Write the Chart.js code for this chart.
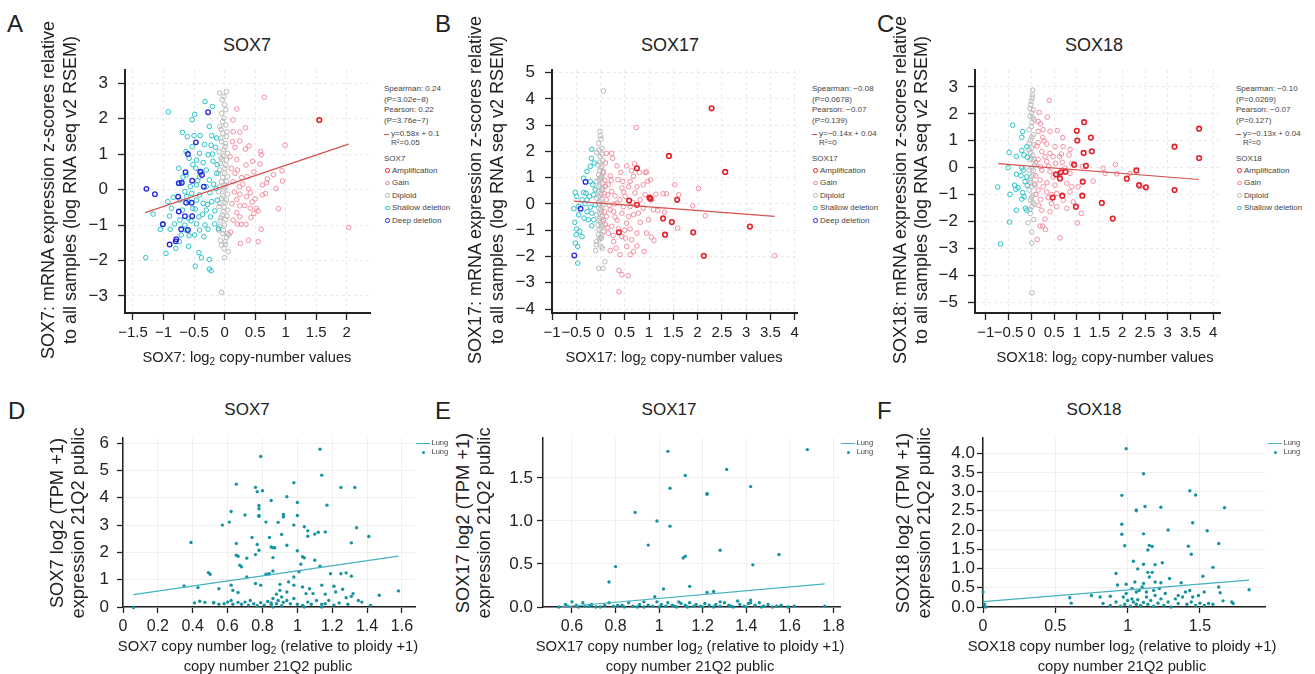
<!DOCTYPE html>
<html lang="en">
<head>
<meta charset="UTF-8">
<title>SOX7 / SOX17 / SOX18 copy number vs mRNA expression</title>
<script src="https://cdn.jsdelivr.net/npm/chart.js"></script>
<style>
    body {
        margin: 0;
        background: #fff;
        font-family: "Liberation Sans", Arial, sans-serif;
        color: #222;
    }
    #fig {
        position: relative;
        width: 1315px;
        height: 674px;
        overflow: hidden;
        background: #fff;
    }
    #fig canvas { position: absolute; }
    .t { position: absolute; white-space: nowrap; }
    .rot { position: absolute; white-space: nowrap; transform: translate(-50%, -50%) rotate(-90deg); }
    .leg { position: absolute; white-space: nowrap; font-size: 8px; line-height: 10px; color: #444; }
    .mk { position: absolute; width: 2.6px; height: 2.6px; border: 1.2px solid; border-radius: 50%; }
    .dash { position: absolute; height: 1.3px; }
    .dot { position: absolute; width: 3px; height: 3px; border-radius: 50%; background: #1b95a3; }
    sub { font-size: 0.68em; vertical-align: baseline; position: relative; top: 0.3em; line-height: 0; }
    sup { font-size: 0.6em; vertical-align: baseline; position: relative; top: -0.5em; line-height: 0; }
</style>
</head>
<body>
<div id="fig"></div>

<script>
// ---------- tick values ----------
const aXTicks = [-1.5, -1, -0.5, 0, 0.5, 1, 1.5, 2];
const aYTicks = [-3, -2, -1, 0, 1, 2, 3];
const bXTicks = [-1, -0.5, 0, 0.5, 1, 1.5, 2, 2.5, 3, 3.5, 4];
const bYTicks = [-4, -3, -2, -1, 0, 1, 2, 3, 4, 5];
const cXTicks = [-1, -0.5, 0, 0.5, 1, 1.5, 2, 2.5, 3, 3.5, 4];
const cYTicks = [-5, -4, -3, -2, -1, 0, 1, 2, 3];
const dXTicks = [0, 0.2, 0.4, 0.6, 0.8, 1, 1.2, 1.4, 1.6];
const dYTicks = [0, 1, 2, 3, 4, 5, 6];
const eXTicks = [0.6, 0.8, 1, 1.2, 1.4, 1.6, 1.8];
const eYTicks = [0, 0.5, 1, 1.5];
const fXTicks = [0, 0.5, 1, 1.5];
const fYTicks = [0, 0.5, 1, 1.5, 2, 2.5, 3, 3.5, 4];

// ---------- A: SOX7 (log2 CN, z-score) ----------
const sox7Amp = [[1.55,1.96]];
const sox7Gain = [[0.65,2.6],[0.2,2.27],[0.14,1.96],[0.34,1.74],[0.25,1.62],[0.14,1.63],[0.13,1.35],[0.25,1.37],[0.4,1.23],[0.34,1.14],[0.17,1.19],[0.59,1.07],[0.6,0.98],[0.99,1.25],[0.46,0.8],[0.35,0.69],[0.58,0.72],[0.21,0.55],[0.17,0.46],[0.28,0.34],[0.37,0.36],[0.48,0.5],[0.8,0.42],[0.94,0.53],[0.95,0.24],[0.69,0.19],[0.62,0.13],[0.14,0.22],[0.24,0.08],[0.39,0.02],[0.42,-0.09],[0.16,-0.07],[0.25,-0.13],[0.2,-0.28],[0.5,-0.26],[0.62,-0.15],[0.67,-0.11],[0.84,0.03],[0.88,-0.54],[0.25,-0.46],[0.33,-0.45],[0.42,-0.53],[0.52,-0.53],[0.48,-0.67],[0.2,-0.65],[0.25,-0.77],[0.14,-0.86],[0.21,-0.97],[0.27,-0.98],[0.35,-0.98],[0.43,-0.79],[0.6,-1.12],[0.39,-1.43],[0.55,-1.47],[0.26,-1.52],[2.03,-1.07],[0.2,0.85],[0.09,0.93],[0.11,0.6],[0.3,0.15],[0.45,-0.35],[0.55,-0.6],[0.12,-0.4],[0.7,0.3],[0.36,-0.2],[0.1,-1.2]];
const sox7Dip = [[-0.08,2.72],[0.03,2.76],[-0.01,2.62],[0,2.39],[-0.05,2.15],[-0.01,2.01],[-0.08,1.78],[0.02,1.82],[-0.03,1.59],[0.03,1.49],[-0.05,1.35],[0.01,1.21],[-0.09,1.07],[-0.02,0.95],[0.03,0.83],[-0.07,0.74],[0,0.6],[-0.1,0.46],[-0.03,0.34],[0.03,0.22],[-0.08,0.08],[-0.01,-0.01],[0.05,-0.13],[-0.05,-0.25],[0.01,-0.37],[-0.09,-0.48],[-0.02,-0.62],[0.04,-0.75],[-0.07,-0.88],[0,-1],[-0.1,-1.14],[-0.03,-1.24],[0.03,-1.35],[-0.05,-1.57],[-0.01,-1.66],[0.06,-1.75],[0,-1.92],[-0.05,-2.9],[-0.04,2.53],[0.02,2.25],[-0.03,1.92],[0.04,1.63],[-0.06,1.45],[-0.01,1.12],[0.05,1.02],[-0.04,0.85],[0.02,0.69],[-0.08,0.55],[0,0.46],[0.05,0.36],[-0.05,0.22],[0.01,0.13],[-0.1,-0.06],[-0.03,-0.18],[0.03,-0.3],[-0.08,-0.39],[-0.01,-0.5],[0.05,-0.58],[-0.04,-0.72],[0.02,-0.84],[-0.08,-1.05],[-0.02,-1.14],[0.05,-1.24],[0.01,-1.47],[-0.07,-1.43],[0.07,-1.28],[-0.06,1.7],[0.01,1.3],[-0.06,0.9],[0.01,0.05],[-0.06,-0.8],[0.01,-1.55]];
const sox7Shallow = [[-0.92,2.19],[-0.32,2.48],[-0.49,2.12],[-0.2,2.34],[-0.53,1.97],[-0.25,1.78],[-0.69,1.61],[-0.61,1.49],[-0.5,1.52],[-0.4,1.52],[-0.21,1.52],[-0.13,1.45],[-0.53,1.21],[-0.33,1.27],[-0.22,1.25],[-0.15,1.19],[-0.63,1.07],[-0.41,1.02],[-0.27,0.98],[-0.58,0.88],[-0.46,0.83],[-0.35,0.76],[-0.19,0.8],[-0.75,0.6],[-0.47,0.6],[-0.3,0.55],[-0.13,0.46],[-0.63,0.41],[-0.41,0.36],[-0.25,0.27],[-0.73,0.18],[-0.56,0.08],[-0.46,0.13],[-0.3,0.08],[-0.14,0.03],[-0.65,-0.06],[-0.54,-0.11],[-0.41,-0.15],[-0.24,-0.09],[-0.84,-0.22],[-0.93,-0.34],[-0.73,-0.3],[-0.59,-0.34],[-0.46,-0.3],[-0.35,-0.39],[-0.21,-0.34],[-0.12,-0.3],[-1.17,-0.69],[-0.87,-0.53],[-0.69,-0.58],[-0.52,-0.53],[-0.3,-0.58],[-0.9,-0.75],[-0.73,-0.86],[-0.59,-0.81],[-0.42,-0.77],[-0.23,-0.77],[-1.01,-0.97],[-0.82,-0.97],[-0.65,-1],[-0.46,-0.97],[-0.32,-1],[-0.16,-0.97],[-1.05,-1.12],[-0.89,-1.12],[-0.63,-1.14],[-0.41,-1.14],[-0.27,-1.12],[-0.1,-1.1],[-0.71,-1.28],[-0.49,-1.28],[-0.34,-1.33],[-0.74,-1.47],[-0.8,-1.66],[-0.59,-1.6],[-0.96,-1.8],[-0.42,-1.78],[-0.38,-1.92],[-0.25,-1.97],[-1.29,-1.92],[-0.48,-2.16],[-0.25,-2.24],[-0.22,-2.29],[-0.52,0.7],[-0.38,0.5],[-0.18,0.15],[-0.62,-0.2],[-0.48,-0.55],[-0.36,-0.7],[-0.55,-0.88],[-0.28,-0.42],[-0.16,-0.6],[-0.44,0.25],[-0.68,0.35],[-0.58,-1.3],[-0.2,1.0],[-0.12,0.7]];
const sox7Deep = [[-1.28,0.02],[-1.14,-0.13],[-0.27,2.18],[-0.47,1.33],[-0.6,1.0],[-0.64,0.49],[-0.4,0.5],[-0.37,0.41],[-0.53,0.25],[-0.75,0.18],[-0.7,0.19],[-0.34,0.08],[-0.76,-0.2],[-0.63,-0.37],[-0.54,-0.37],[-0.75,-0.62],[-0.65,-0.75],[-0.53,-0.75],[-1.01,-0.98],[-0.71,-1.12],[-0.6,-1.14],[-0.79,-1.4],[-0.8,-1.46],[-0.9,-1.55]];
const sox7Fit = [[-1.3,-0.65],[2.03,1.28]];

// ---------- B: SOX17 ----------
const sox17Amp = [[2.29,3.64],[1.41,1.83],[2.57,1.22],[0.75,1.36],[1.03,0.2],[1.01,0.24],[1.58,0.16],[0.59,0.13],[0.75,-0.03],[1.29,-0.55],[1.47,-0.69],[0.38,-1.08],[1.33,-1.17],[1.91,-1.08],[2.13,-1.97],[3.08,-0.86]];
const sox17Gain = [[0.74,2.91],[3.59,-1.97],[2.02,0.59],[2.16,-0.45],[1.9,-0.07],[1.53,0.73],[1.61,0.35],[1.29,0.39],[1.36,0.39],[1.59,-0.92],[1.18,-0.25],[1.32,-0.31],[0.95,-1.11],[1.05,-1.26],[1.1,-1.39],[0.9,-1.81],[0.38,-3.34],[0.38,-2.53],[0.44,-2.69],[0.57,-2.73],[0.25,1.74],[0.12,1.93],[0.34,1.45],[0.54,1.45],[0.64,1.27],[0.92,1.2],[0.95,1.22],[0.97,0.86],[0.7,1.53],[0.8,1.2],[0.2,1.07],[0.36,0.92],[0.61,0.86],[0.88,0.73],[0.16,0.73],[0.44,0.61],[0.71,0.42],[0.92,0.35],[1.05,0.16],[0.23,0.48],[0.51,0.29],[0.82,0.16],[0.12,0.16],[0.34,0.03],[0.61,-0.1],[0.88,-0.16],[1.09,-0.22],[0.2,-0.22],[0.44,-0.35],[0.68,-0.41],[0.99,-0.6],[0.12,-0.47],[0.34,-0.62],[0.54,-0.73],[0.82,-0.7],[0.23,-0.85],[0.61,-0.95],[0.75,-1.11],[0.16,-1.11],[0.44,-1.24],[0.64,-1.36],[0.27,-1.43],[0.54,-1.62],[0.75,-1.6],[0.2,-1.77],[0.4,-1.93],[0.61,-1.93],[0.68,-1.81],[0.32,-1.68],[0.51,-1.3],[0.1,0.67],[0.06,1.18],[0.1,1.56],[0.3,0.31],[0.4,0.16],[0.47,-0.1],[0.27,-0.29],[0.58,-0.48],[0.37,-0.95],[0.1,-0.79],[0.75,0.65],[0.58,0.65],[0.23,1.93],[1.03,0.92],[1.14,0.37],[0.46,0.86],[0.68,1.05],[0.15,0.35],[0.28,0.0],[0.18,-0.05],[0.08,0.4],[0.08,-0.3],[0.3,-0.5],[0.14,-0.9],[0.48,0.45],[0.22,0.9],[0.42,1.2],[0.5,-1.0],[0.26,-1.2],[0.66,0.05],[0.78,-0.35],[0.06,-0.6],[0.09,0.9]];
const sox17Dip = [[0.06,4.3],[-0.01,2.76],[0.01,2.47],[-0.04,2.31],[0.03,2.12],[-0.08,1.96],[-0.01,1.81],[0.05,1.65],[-0.05,1.49],[0.01,1.36],[0.06,1.24],[-0.04,1.11],[0.02,0.98],[-0.08,0.86],[-0.01,0.73],[0.05,0.6],[-0.04,0.48],[0.02,0.35],[-0.08,0.22],[-0.01,0.1],[0.06,-0.03],[-0.04,-0.16],[0.02,-0.29],[-0.08,-0.41],[-0.01,-0.54],[0.05,-0.67],[-0.05,-0.79],[0.01,-0.92],[0.06,-1.05],[-0.04,-1.17],[0.02,-1.3],[-0.08,-1.43],[0.01,-1.62],[-0.1,-1.77],[0.04,-1.68],[-0.04,-2.45],[0.05,-2.45],[0.09,-2.2],[-0.03,2.06],[0.03,1.9],[-0.02,1.59],[0.03,1.43],[-0.02,1.27],[0.03,1.07],[-0.03,0.92],[0.04,0.79],[-0.03,0.67],[0.03,0.52],[-0.03,0.29],[0.03,0.18],[-0.04,0.03],[0.03,-0.12],[-0.03,-0.35],[0.03,-0.48],[-0.03,-0.63],[0.03,-0.83],[-0.03,-0.98],[0.03,-1.17],[-0.02,-1.36],[-0.09,-1.55],[0.0,2.6],[0.0,1.0],[0.0,0.4],[0.0,-0.2],[0.0,-0.72],[0.0,-1.25]];
const sox17Shallow = [[-0.18,2.08],[-0.19,1.74],[-0.28,1.24],[-0.21,1.43],[-0.13,1.56],[-0.35,0.98],[-0.21,0.86],[-0.52,0.44],[-0.49,0.29],[-0.35,0.44],[-0.3,0.41],[-0.23,0.29],[-0.14,0.35],[-0.55,-0.18],[-0.45,-0.09],[-0.32,0.01],[-0.21,-0.12],[-0.11,-0.03],[-0.28,-0.29],[-0.18,-0.35],[-0.34,-0.54],[-0.25,-0.6],[-0.14,-0.6],[-0.53,-0.7],[-0.49,-0.95],[-0.43,-1.04],[-0.38,-1.24],[-0.52,-1.49],[-0.47,-1.62],[-0.5,-1.17],[-0.47,-2.25],[-0.18,-0.83],[-0.38,0.16],[-0.28,0.16],[-0.11,0.54],[-0.16,0.73],[-0.45,-0.41]];
const sox17Deep = [[-0.31,0.84],[-0.41,-0.18],[-0.54,-1.96]];
const sox17Fit = [[-0.55,0.11],[3.59,-0.47]];

// ---------- C: SOX18 ----------
const sox18Amp = [[3.69,1.45],[3.69,0.36],[3.15,0.78],[3.15,-0.83],[1.16,1.69],[1.0,1.37],[1.31,1.12],[1.01,1.01],[1.15,0.55],[1.33,0.61],[0.94,0.11],[1.2,0.07],[2.31,-0.1],[2.1,-0.41],[2.37,-0.65],[2.52,-0.73],[0.54,-0.25],[0.63,-0.4],[0.65,-0.17],[0.75,-0.15],[1.13,-0.52],[0.47,-1.11],[0.68,-1.04],[1.12,-1.04],[0.98,-1.45],[1.55,-1.31],[1.79,-1.89]];
const sox18Gain = [[0.39,2.5],[0.17,2.05],[0.35,1.88],[0.2,1.63],[0.26,1.41],[0.41,1.35],[0.57,1.38],[0.69,1.12],[0.85,0.68],[0.25,1.13],[0.15,0.93],[0.34,0.88],[0.52,0.78],[0.7,0.78],[0.83,0.47],[0.23,0.6],[0.41,0.53],[0.62,0.41],[0.15,0.31],[0.34,0.22],[0.53,0.16],[0.89,0.16],[1.13,0.04],[1.58,-0.02],[1.85,0.12],[1.62,-0.21],[1.88,-0.23],[2.17,-0.21],[2.4,-0.71],[1.36,-0.5],[0.23,-0.09],[0.41,-0.15],[0.19,-0.46],[0.34,-0.56],[0.52,-0.65],[0.78,-0.58],[0.89,-0.71],[1.03,-0.71],[0.15,-0.83],[0.34,-0.9],[0.56,-0.96],[0.85,-0.9],[0.2,-1.18],[0.37,-1.11],[0.7,-1.21],[0.92,-1.27],[0.23,-1.58],[0.41,-1.64],[0.78,-1.51],[1.1,-1.7],[0.3,-1.91],[0.19,-2.17],[0.25,-2.17],[0.31,-2.3],[0.13,-2.67],[0.63,-2.61],[1.01,-2.05],[0.61,-0.21],[0.74,-0.02],[0.48,-0.34],[0.26,-0.71],[0.44,-1.33],[0.56,-1.45],[0.85,-0.21],[0.15,1.35],[0.15,1.72],[0.2,0.04],[0.3,0.41],[0.48,0.41],[0.66,0.51],[0.1,0.2],[0.1,-0.3],[0.12,0.8],[0.1,-1.0],[0.28,1.0],[0.45,-1.0],[0.38,0.05],[0.68,0.2],[0.16,-1.4],[0.08,-0.6]];
const sox18Dip = [[0.03,2.88],[0.02,2.59],[-0.01,2.34],[0.04,2.15],[-0.03,1.91],[0.02,1.68],[-0.05,1.41],[0.04,1.22],[-0.02,1.03],[0.06,0.85],[-0.05,0.66],[0.03,0.47],[-0.03,0.29],[0.07,0.1],[-0.05,-0.09],[0.04,-0.27],[-0.02,-0.46],[0.07,-0.65],[-0.05,-0.83],[0.03,-1.02],[-0.02,-1.2],[0.06,-1.35],[-0.03,-1.55],[0.05,-1.93],[-0.07,-2.05],[0.01,-2.39],[0.01,-2.8],[0.01,-4.65],[0,2.47],[0.01,2.03],[0,1.53],[0.01,1.13],[0,0.72],[0,0.35],[0.01,-0.02],[0,-0.33],[0.01,-0.71],[0,-1.1],[0.01,-1.45],[-0.02,-1.7],[0.06,0.31],[-0.05,0.91],[0.06,1.78],[0.02,2.7],[-0.03,2.2],[0.03,1.85],[-0.02,0.55],[0.04,-0.1],[-0.03,-0.55],[0.03,-1.28]];
const sox18Shallow = [[-0.41,1.58],[-0.19,1.34],[-0.21,1.13],[-0.49,0.57],[-0.33,0.42],[-0.21,0.64],[-0.16,0.47],[-0.1,0.78],[-0.09,0.39],[-0.51,0.0],[-0.21,0.0],[-0.18,-0.09],[-0.33,-0.24],[-0.23,-0.3],[-0.1,-0.34],[-0.37,-0.65],[-0.34,-0.8],[-0.29,-0.75],[-0.74,-0.72],[-0.47,-0.99],[-0.19,-0.93],[-0.16,-1.08],[-0.21,-1.17],[-0.33,-1.58],[-0.1,-1.58],[-0.13,-1.51],[-0.48,-2.02],[-0.68,-2.83],[-0.14,-0.52],[-0.09,-0.66]];
const sox18Fit = [[-0.73,0.15],[3.69,-0.44]];

// ---------- D: SOX7 (DepMap 21Q2) ----------
const depSox7 = [[0.06,-0.02],[0.35,0.77],[0.39,2.36],[0.43,0.71],[0.44,0.21],[0.49,1.26],[0.5,1.2],[0.55,0.67],[0.52,0.17],[0.47,0.17],[0.57,3.0],[0.61,3.11],[0.62,3.5],[0.65,4.5],[0.7,3.37],[0.76,4.38],[0.77,4.22],[0.8,4.26],[0.79,5.51],[0.78,3.72],[0.78,3.6],[0.78,3.35],[0.78,3.32],[0.65,2.33],[0.65,1.9],[0.66,1.86],[0.71,1.79],[0.74,2.55],[0.77,2.29],[0.78,2.08],[0.76,1.92],[0.67,1.53],[0.68,1.47],[0.71,1.1],[0.73,0.24],[0.85,3.9],[0.82,3.11],[0.84,2.55],[0.85,2.2],[0.86,2.17],[0.87,2.17],[0.86,1.81],[0.86,1.32],[0.84,1.22],[0.83,1.2],[0.82,1.2],[0.79,0.8],[0.76,0.86],[0.63,0.61],[0.66,0.53],[0.62,0.8],[0.94,4.04],[0.92,3.39],[0.92,3.3],[0.89,3.1],[0.91,2.66],[0.94,2.26],[0.98,1.1],[0.95,0.92],[0.9,0.83],[0.98,4.55],[1.0,3.83],[1.0,3.35],[0.98,3.0],[1.0,2.06],[1.02,1.57],[1.03,1.84],[1.04,1.8],[1.01,1.29],[1.04,2.94],[1.06,2.79],[1.06,2.59],[1.1,2.67],[1.1,1.71],[1.13,1.49],[1.14,4.83],[1.13,5.78],[1.12,2.74],[1.16,2.75],[1.17,3.73],[1.19,1.22],[1.25,4.38],[1.33,4.38],[1.34,2.9],[1.31,2.35],[1.41,2.58],[1.28,1.25],[1.31,1.13],[1.25,1.22],[1.26,0.65],[1.28,0.34],[1.32,0.49],[1.31,0.39],[1.58,0.59],[1.47,0.43],[1.14,0.8],[1.16,0.47],[1.07,0.67],[1.09,0.49],[1.11,0.24],[1.03,0.73],[1.05,0.49],[0.98,0.8],[0.94,0.55],[0.9,0.61],[0.88,0.47],[0.94,0.24],[0.98,0.31],[0.86,0.31],[0.85,0.15],[0.52,0.15],[0.55,0.1],[0.58,0.12],[0.6,0.18],[0.62,0.24],[0.63,0.1],[0.66,0.17],[0.68,0.1],[0.7,0.18],[0.72,0.07],[0.75,0.12],[0.77,0.05],[0.79,0.16],[0.81,0.07],[0.83,0.2],[0.85,0.1],[0.88,0.12],[0.91,0.05],[0.92,0.17],[0.96,0.12],[1.0,0.1],[1.03,0.06],[1.06,0.18],[1.08,0.1],[1.14,0.1],[1.16,0.12],[1.18,0.24],[1.21,0.07],[1.24,0.15],[1.29,0.1],[1.35,0.24],[1.37,0.18],[1.42,0.06],[1.14,0.0],[1.04,0.0],[0.86,0.0],[0.41,0.15],[0.89,0.24],[0.91,0.37],[1.21,0.76],[1.22,0.55]];
const depSox7Fit = [[0.06,0.45],[1.58,1.86]];

// ---------- E: SOX17 (DepMap 21Q2) ----------
const depSox17 = [[1.04,1.81],[1.68,1.83],[1.31,1.6],[1.12,1.53],[1.42,1.4],[1.05,1.38],[1.22,1.32],[1.22,1.31],[0.89,1.1],[0.99,1.0],[1.05,0.94],[0.95,0.72],[1.28,0.66],[1.12,0.59],[1.11,0.57],[1.55,0.61],[1.43,0.49],[0.8,0.47],[0.77,0.29],[1.14,0.24],[1.02,0.21],[1.22,0.17],[1.25,0.18],[0.98,0.12],[1.36,0.07],[1.28,0.06],[1.42,0.08],[1.42,0.05],[0.54,0],[0.57,0.03],[0.6,0.06],[0.62,0.02],[0.65,0.05],[0.66,0.01],[0.69,0.03],[0.71,0],[0.75,0.02],[0.77,0.05],[0.79,0.01],[0.81,0.02],[0.84,0],[0.86,0.05],[0.88,0.01],[0.91,0.03],[0.93,0],[0.95,0.02],[0.97,0.01],[0.99,0.06],[1.01,0.03],[1.03,0.01],[1.04,0.05],[1.06,0.02],[1.08,0],[1.1,0.04],[1.12,0.02],[1.14,0.05],[1.16,0.01],[1.17,0.03],[1.2,0],[1.21,0.04],[1.23,0.02],[1.26,0.03],[1.28,0.01],[1.3,0.05],[1.32,0.02],[1.34,0],[1.37,0.03],[1.39,0.01],[1.41,0.04],[1.44,0.02],[1.46,0.05],[1.48,0.01],[1.5,0.03],[1.52,0],[1.56,0.02],[1.59,0],[1.62,0.01],[1.76,0.01],[1.09,0.06],[0.93,0.06],[0.58,0.01],[0.63,0.0],[0.68,0.01],[0.73,0.0],[0.83,0.02],[0.9,0.0],[1.0,0.0],[1.07,0.01],[1.13,0.0],[1.19,0.01],[1.25,0.0],[1.33,0.01],[1.4,0.0],[1.47,0.0],[1.54,0.01]];
const depSox17Fit = [[0.55,0.0],[1.76,0.27]];

// ---------- F: SOX18 (DepMap 21Q2) ----------
const depSox18 = [[0.99,4.11],[1.11,3.46],[1.43,3.02],[1.47,2.91],[0.96,2.9],[1.06,2.5],[1.06,2.52],[1.12,2.61],[1.23,2.59],[1.67,2.58],[0.96,2.15],[1.45,2.19],[1.11,1.9],[0.96,1.89],[1.28,2.0],[1.55,1.98],[0.98,1.59],[1.15,1.6],[1.17,1.57],[1.14,1.48],[1.42,1.58],[1.44,1.37],[1.63,1.65],[1.04,1.19],[1.11,1.11],[1.19,1.1],[1.24,1.15],[0.92,0.87],[1.07,0.99],[1.14,0.9],[1.17,0.9],[1.59,1.03],[1.52,0.8],[0.6,0.24],[0.61,0.1],[0.75,0.3],[0.81,0.26],[0.88,0.28],[0.93,0.57],[0.99,0.59],[1.05,0.65],[1.1,0.52],[1.15,0.78],[1.23,0.63],[1.29,0.74],[1.37,0.63],[1.43,0.43],[1.49,0.3],[1.53,0.39],[1.63,0.52],[1.64,0.37],[1.84,0.45],[1.66,0.16],[1.72,0.13],[1.73,0.09],[0.0,0.39],[0.01,0.07],[0.02,0.0],[0.83,0.09],[0.88,0.04],[0.92,0.13],[0.95,0.02],[0.98,0.07],[1.0,0.17],[1.02,0.02],[1.04,0.13],[1.06,0.07],[1.07,0.19],[1.09,0.04],[1.11,0.12],[1.13,0.26],[1.14,0.07],[1.16,0.17],[1.18,0.02],[1.19,0.3],[1.21,0.1],[1.23,0.21],[1.25,0.04],[1.26,0.35],[1.28,0.13],[1.3,0.0],[1.33,0.21],[1.35,0.09],[1.38,0.26],[1.41,0.07],[1.44,0.13],[1.47,0.04],[1.5,0.1],[1.53,0.04],[1.56,0.09],[1.59,0.07],[1.08,0.43],[1.13,0.39],[1.18,0.43],[1.22,0.48],[0.99,0.35],[1.06,0.39],[1.03,0.48],[1.19,0.65],[1.11,0.61],[0.97,0.26],[1.03,0.21],[1.35,0.3],[1.4,0.39],[1.45,0.26]];
const depSox18Fit = [[0,0.14],[1.84,0.7]];

// ---------- colours ----------
const cAmp = '#e5202b', cGain = '#f48ca0', cDip = '#b9b9b9', cShal = '#25c3c8', cDeep = '#2626e0';
const cFit = '#d5524d', cDep = '#17939f', cDepFit = '#44b2bf';

Chart.defaults.font.family = '"Liberation Sans", Arial, sans-serif';
Chart.defaults.color = '#222';

const fig = document.getElementById('fig');
const pts = a => a.map(([x, y]) => ({ x, y }));
const minus = v => (v < 0 ? '\u2212' : '') + Math.abs(v);

function text(x, base, html, size, center) {
    const d = document.createElement('div');
    d.className = 't';
    d.innerHTML = html;
    d.style.fontSize = size + 'px';
    d.style.lineHeight = size + 'px';
    d.style.left = x + 'px';
    d.style.top = (base - 0.83 * size) + 'px';
    if (center) d.style.transform = 'translateX(-50%)';
    fig.appendChild(d);
}

function vtext(cx, cy, html, size) {
    const d = document.createElement('div');
    d.className = 'rot';
    d.innerHTML = html;
    d.style.fontSize = size + 'px';
    d.style.lineHeight = size + 'px';
    d.style.left = cx + 'px';
    d.style.top = cy + 'px';
    fig.appendChild(d);
}

function circles(data, color, bw) {
    return {
        data: pts(data), clip: false,
        pointRadius: 2.3, pointHoverRadius: 2.3,
        pointBorderWidth: bw || 1, pointBorderColor: color,
        pointBackgroundColor: 'rgba(0,0,0,0)'
    };
}

function dots(data) {
    return {
        data: pts(data), clip: false,
        pointRadius: 1.7, pointHoverRadius: 1.7, pointBorderWidth: 0,
        pointBackgroundColor: cDep, pointBorderColor: cDep
    };
}

function fitLine(data, color) {
    return {
        data: pts(data), showLine: true, clip: false,
        borderColor: color, borderWidth: 1.2, pointRadius: 0
    };
}

// area = [left, top, right, bottom] of the plotting box on the page
function makeChart(p) {
    const Wy = 70, Hx = 40, pad = 12;
    const cv = document.createElement('canvas');
    cv.width = p.area[2] - p.area[0] + Wy + pad;
    cv.height = p.area[3] - p.area[1] + pad + Hx;
    cv.style.left = (p.area[0] - Wy) + 'px';
    cv.style.top = (p.area[1] - pad) + 'px';
    fig.appendChild(cv);

    const axis = (range, ticks, fmt, size, tpad, isX) => ({
        type: 'linear', min: range[0], max: range[1],
        afterBuildTicks: s => { s.ticks = ticks.map(v => ({ value: v })); },
        afterFit: s => {
            if (isX) { s.height = Hx; s.paddingLeft = 0; s.paddingRight = 0; }
            else { s.width = Wy; s.paddingTop = 0; s.paddingBottom = 0; }
        },
        ticks: { font: { size: size }, color: '#222', padding: tpad, autoSkip: false, maxRotation: 0, callback: v => fmt(v) },
        grid: { color: p.grid, lineWidth: 1, tickLength: p.tickLen, tickColor: '#222', tickWidth: 1.3 },
        border: { color: '#222', width: p.axisW, dash: p.dash }
    });

    new Chart(cv, {
        type: 'scatter',
        data: { datasets: p.sets },
        options: {
            responsive: false,
            animation: false,
            layout: { padding: { left: 0, top: pad, right: pad, bottom: 0 } },
            plugins: { legend: { display: false }, tooltip: { enabled: false } },
            scales: {
                x: axis(p.x, p.xTicks, p.fmtX, p.fx, p.xPad, true),
                y: axis(p.y, p.yTicks, p.fmtY, p.fy, p.yPad, false)
            }
        }
    });
}

const cnStyle = { grid: '#e9e9e9', dash: [3, 3], tickLen: 7, axisW: 2, fx: 15, fy: 17, xPad: 4, yPad: 10, fmtX: minus, fmtY: minus };
const depStyle = { grid: '#efefef', dash: [], tickLen: 6, axisW: 1.5, fx: 16, fy: 17, xPad: 4 };
const fix1 = v => v.toFixed(1);

makeChart(Object.assign({}, cnStyle, {
    area: [125, 70, 370, 313], x: [-1.63, 2.38], y: [-3.48, 3.37], xTicks: aXTicks, yTicks: aYTicks,
    sets: [fitLine(sox7Fit, cFit), circles(sox7Amp, cAmp, 1.6), circles(sox7Deep, cDeep, 1.3), circles(sox7Gain, cGain), circles(sox7Shallow, cShal), circles(sox7Dip, cDip)]
}));
makeChart(Object.assign({}, cnStyle, {
    area: [552, 70, 797, 313], x: [-1, 4.05], y: [-4.15, 5.1], xTicks: bXTicks, yTicks: bYTicks,
    sets: [fitLine(sox17Fit, cFit), circles(sox17Amp, cAmp, 1.6), circles(sox17Deep, cDeep, 1.3), circles(sox17Gain, cGain), circles(sox17Shallow, cShal), circles(sox17Dip, cDip)]
}));
makeChart(Object.assign({}, cnStyle, {
    area: [975, 70, 1220, 313], x: [-1.24, 4.15], y: [-5.4, 3.63], xTicks: cXTicks, yTicks: cYTicks,
    sets: [fitLine(sox18Fit, cFit), circles(sox18Amp, cAmp, 1.6), circles(sox18Gain, cGain), circles(sox18Shallow, cShal), circles(sox18Dip, cDip)]
}));
makeChart(Object.assign({}, depStyle, {
    area: [123, 438, 415, 607], x: [0, 1.675], y: [0, 6.19], xTicks: dXTicks, yTicks: dYTicks, yPad: 8,
    fmtX: v => String(v), fmtY: v => String(v),
    sets: [fitLine(depSox7Fit, cDepFit), dots(depSox7)]
}));
makeChart(Object.assign({}, depStyle, {
    area: [543, 438, 840, 607], x: [0.467, 1.83], y: [0, 1.965], xTicks: eXTicks, yTicks: eYTicks, yPad: 4,
    fmtX: v => String(v), fmtY: fix1,
    sets: [fitLine(depSox17Fit, cDepFit), dots(depSox17)]
}));
makeChart(Object.assign({}, depStyle, {
    area: [983, 438, 1265, 607], x: [0, 1.95], y: [0, 4.39], xTicks: fXTicks, yTicks: fYTicks, yPad: 2,
    fmtX: v => String(v), fmtY: fix1,
    sets: [fitLine(depSox18Fit, cDepFit), dots(depSox18)]
}));

// ---------- panel letters, titles, axis titles ----------
[['A', 7, 32], ['B', 435, 32], ['C', 877, 32], ['D', 8, 419], ['E', 435, 419], ['F', 877, 419]]
    .forEach(([l, x, b]) => text(x, b, l, 24, false));

[['SOX7', 247], ['SOX17', 670], ['SOX18', 1094]].forEach(([s, x]) => text(x, 51, s, 18, true));
[['SOX7', 247], ['SOX17', 669], ['SOX18', 1094]].forEach(([s, x]) => text(x, 415, s, 17, true));

[['SOX7', 247], ['SOX17', 674], ['SOX18', 1105]].forEach(([g, x]) =>
    text(x, 362, g + ': log<sub>2</sub> copy-number values', 14.7, true));

[['SOX7', 48, 70], ['SOX17', 475, 497], ['SOX18', 900, 921]].forEach(([g, x1, x2]) => {
    vtext(x1, 190, g + ': mRNA expression z-scores relative', 18);
    vtext(x2, 190, 'to all samples (log RNA seq v2 RSEM)', 18);
});

[['SOX7', 268, 57, 78], ['SOX17', 690, 463, 484], ['SOX18', 1122, 903, 924]].forEach(([g, cx, y1, y2]) => {
    text(cx, 651, g + ' copy number log<sub>2</sub> (relative to ploidy +1)', 14.8, true);
    text(cx, 671, 'copy number 21Q2 public', 14.8, true);
    vtext(y1, 523, g + ' log2 (TPM +1)', 18.3);
    vtext(y2, 523, 'expression 21Q2 public', 18.3);
});

// ---------- legends ----------
function legLine(x, cy, html) {
    const d = document.createElement('div');
    d.className = 'leg';
    d.innerHTML = html;
    d.style.left = x + 'px';
    d.style.top = (cy - 5) + 'px';
    fig.appendChild(d);
    return d;
}

function cnLegend(x0, stats, gene, cats) {
    [89, 99.5, 110, 120.5].forEach((cy, i) => legLine(x0, cy, stats[i]));
    const dash = document.createElement('div');
    dash.className = 'dash';
    Object.assign(dash.style, { left: x0 + 'px', top: '133.5px', width: '5px', background: cFit });
    fig.appendChild(dash);
    legLine(x0 + 7, 134, stats[4]);
    legLine(x0 + 7, 143, stats[5]);
    legLine(x0, 159, gene);
    cats.forEach(([name, col], i) => {
        const cy = 170.5 + 12.6 * i;
        const m = document.createElement('div');
        m.className = 'mk';
        Object.assign(m.style, { left: (x0 + 1.2) + 'px', top: (cy - 2.5) + 'px', borderColor: col });
        fig.appendChild(m);
        legLine(x0 + 8, cy, name);
    });
}

const cats5 = [['Amplification', cAmp], ['Gain', cGain], ['Diploid', cDip], ['Shallow deletion', cShal], ['Deep deletion', cDeep]];
cnLegend(384, ['Spearman: 0.24', '(P=3.02e\u22128)', 'Pearson: 0.22', '(P=3.76e\u22127)', 'y=0.58x + 0.1', 'R<sup>2</sup>=0.05'], 'SOX7', cats5);
cnLegend(812, ['Spearman: \u22120.08', '(P=0.0678)', 'Pearson: \u22120.07', '(P=0.139)', 'y=\u22120.14x + 0.04', 'R<sup>2</sup>=0'], 'SOX17', cats5);
cnLegend(1236, ['Spearman: \u22120.10', '(P=0.0269)', 'Pearson: \u22120.07', '(P=0.127)', 'y=\u22120.13x + 0.04', 'R<sup>2</sup>=0'], 'SOX18', cats5.slice(0, 4));

[416, 841, 1268].forEach(x0 => {
    const ln = document.createElement('div');
    ln.className = 'dash';
    Object.assign(ln.style, { left: x0 + 'px', top: '442.5px', width: '14px', background: cDepFit });
    fig.appendChild(ln);
    const dt = document.createElement('div');
    dt.className = 'dot';
    Object.assign(dt.style, { left: (x0 + 5.5) + 'px', top: '450.5px' });
    fig.appendChild(dt);
    legLine(x0 + 15.5, 443, 'Lung').style.fontSize = '7.5px';
    legLine(x0 + 15.5, 452, 'Lung').style.fontSize = '7.5px';
});
</script>
</body>
</html>
